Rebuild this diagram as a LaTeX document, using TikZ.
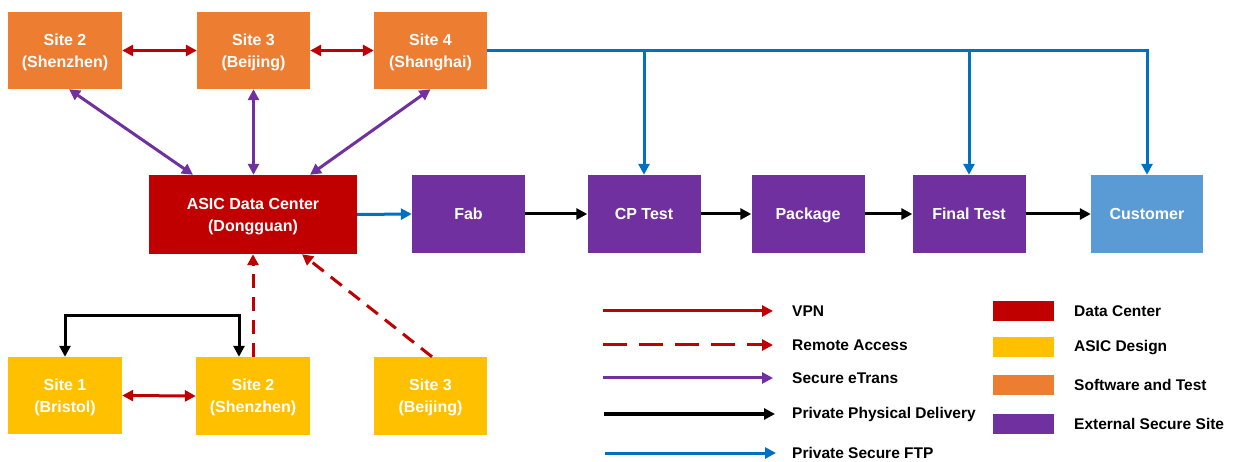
\documentclass[tikz,border=0pt]{standalone}
\usepackage{fontspec}
\setmainfont{Liberation Sans}
\usetikzlibrary{arrows.meta,calc}
\definecolor{cOrange}{HTML}{ED7D31}
\definecolor{cRed}{HTML}{C00000}
\definecolor{cYellow}{HTML}{FFC000}
\definecolor{cPurple}{HTML}{7030A0}
\definecolor{cBlue}{HTML}{0070C0}
\definecolor{cSky}{HTML}{5B9BD5}
\definecolor{cLine}{HTML}{7030A0}
\begin{document}
\begin{tikzpicture}[x=1pt,y=-1pt,
  box/.style={rectangle,inner sep=0pt,minimum width=113pt,minimum height=78pt,
    align=center,text=white,font=\fontsize{16}{22}\selectfont\bfseries,text depth=-1pt},
  single/.style={text height=13pt,text depth=1.5pt},
  tip/.style={-{Triangle[length=11pt,width=11pt]}},
  dtip/.style={{Triangle[length=11pt,width=11pt]}-{Triangle[length=11pt,width=11pt]}},
  vpn/.style={draw=cRed,line width=3pt},
  remote/.style={draw=cRed,line width=3pt,dash pattern=on 14pt off 9pt},
  etrans/.style={draw=cLine,line width=3pt},
  phys/.style={draw=black,line width=3pt},
  ftp/.style={draw=cBlue,line width=3pt},
  lgtext/.style={anchor=west,inner sep=0pt,font=\fontsize{15.5}{18}\selectfont\bfseries},
  lgbox/.style={rectangle,inner sep=0pt,minimum width=61pt,minimum height=20pt}
]
\useasboundingbox (0,0) rectangle (1235,462);
% top row
\node[box,fill=cOrange,minimum width=114pt,minimum height=77pt] (s2t) at (65,50.5) {Site 2\\(Shenzhen)};
\node[box,fill=cOrange,minimum height=77pt] (s3t) at (253.5,50.5) {Site 3\\(Beijing)};
\node[box,fill=cOrange,minimum height=77pt] (s4t) at (430.5,50.5) {Site 4\\(Shanghai)};
% middle row
\node[box,fill=cRed,minimum width=208pt,minimum height=79pt] (dc) at (253,214.5) {ASIC Data Center\\(Dongguan)};
\node[box,single,fill=cPurple] (fab) at (468.5,214) {Fab};
\node[box,single,fill=cPurple] (cp) at (644,214) {CP Test};
\node[box,single,fill=cPurple] (pkg) at (808,214) {Package};
\node[box,single,fill=cPurple] (ft) at (969,214) {Final Test};
\node[box,single,fill=cSky,minimum width=112pt] (cust) at (1147,214) {Customer};
% bottom row
\node[box,fill=cYellow,minimum width=114pt,minimum height=77pt] (b1) at (65,395.5) {Site 1\\(Bristol)};
\node[box,fill=cYellow,minimum width=114pt] (b2) at (253,396) {Site 2\\(Shenzhen)};
\node[box,fill=cYellow] (b3) at (430.5,396) {Site 3\\(Beijing)};

% VPN links
\draw[vpn,dtip] (s2t.east) -- (s3t.west);
\draw[vpn,dtip] (s3t.east) -- (s4t.west);
\draw[vpn,dtip] (b1.east) -- (b2.west);
% eTrans links
\draw[etrans,dtip] ($(s2t.south)+(4,0)$) -- ($(dc.north)+(-60,0)$);
\draw[etrans,dtip] (s3t.south) -- (s3t.south |- dc.north);
\draw[etrans,dtip] (s4t.south) -- ($(dc.north)+(57,0)$);
% FTP
\draw[ftp,tip] (dc.east) -- (fab.west);
\draw[ftp,tip] (s4t.east) -| (cust.north);
\draw[ftp,tip] (cp.north |- s4t.east) -- (cp.north);
\draw[ftp,tip] (ft.north |- s4t.east) -- (ft.north);
% physical chain
\draw[phys,tip] (fab.east) -- (cp.west);
\draw[phys,tip] (cp.east) -- (pkg.west);
\draw[phys,tip] (pkg.east) -- (ft.west);
\draw[phys,tip] (ft.east) -- (cust.west);
\draw[phys,dtip] ($(b2.north)+(-14,0)$) -- ++(0,-41) -| (b1.north);
% remote access
\draw[remote,tip] (b2.north) -- (dc.south);
\draw[remote,tip] ($(b3.north)+(1.5,0)$) -- ($(dc.south)+(49,0)$);

% legend lines
\coordinate (l1a) at (603,311); \coordinate (l1b) at (773,311);
\coordinate (l2a) at (603,345); \coordinate (l2b) at (773,345);
\coordinate (l3a) at (603,378); \coordinate (l3b) at (773,378);
\coordinate (l4a) at (604,414); \coordinate (l4b) at (775,414);
\coordinate (l5a) at (605,453); \coordinate (l5b) at (776,453);
\draw[vpn,tip] (l1a) -- (l1b);
\draw[remote,tip,dash pattern=on 24pt off 12pt] (l2a) -- (l2b);
\draw[etrans,tip] (l3a) -- (l3b);
\draw[phys,tip] (l4a) -- (l4b);
\draw[ftp,tip] (l5a) -- (l5b);
\node[lgtext] (t1) at (792,311) {VPN};
\node[lgtext] (t2) at (792,345) {Remote Access};
\node[lgtext] (t3) at (792,378) {Secure eTrans};
\node[lgtext] (t4) at (792,414) {Private Physical Delivery};
\node[lgtext] (t5) at (792,453) {Private Secure FTP};
% legend boxes
\node[lgbox,fill=cRed] (k1) at (1023,311) {};
\node[lgbox,fill=cYellow] (k2) at (1023,347) {};
\node[lgbox,fill=cOrange] (k3) at (1023,385) {};
\node[lgbox,fill=cPurple] (k4) at (1023,424) {};
\node[lgtext] (u1) at (1074,311) {Data Center};
\node[lgtext] (u2) at (1074,348) {ASIC Design};
\node[lgtext] (u3) at (1074,385) {Software and Test};
\node[lgtext] (u4) at (1074,424) {External Secure Site};
\end{tikzpicture}
\end{document}
